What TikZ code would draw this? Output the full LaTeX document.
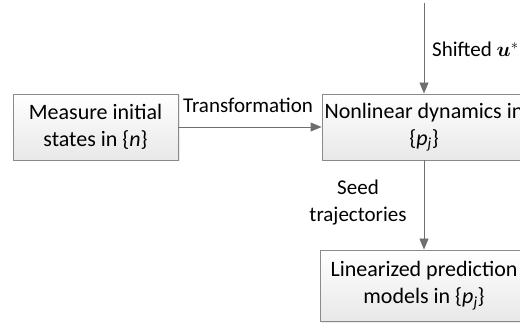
\documentclass[tikz,border=0pt]{standalone}
\usepackage{fontspec}
\usepackage{amsmath,bm}
\setmainfont{Carlito}
\usetikzlibrary{arrows.meta,shadows}
\definecolor{boxline}{HTML}{8A8A8A}
\definecolor{arrowgray}{HTML}{6E6E6E}
\tikzset{
  stepbox/.style={draw=boxline, line width=0.9pt, top color=white, bottom color=black!9,
    drop shadow={shadow xshift=1.5pt, shadow yshift=-1.5pt, fill=black!12, opacity=0.6},
    align=center, inner sep=0pt, font=\fontsize{22}{27}\selectfont},
  conn/.style={draw=arrowgray, line width=0.9pt, -{Triangle[length=11pt,width=9pt]}},
  lbl/.style={font=\fontsize{21}{27}\selectfont, align=center, inner sep=0pt}
}
\begin{document}
\begin{tikzpicture}[x=1pt,y=-1pt]
\useasboundingbox (0,0) rectangle (520,326);
\node[stepbox, minimum width=165pt, minimum height=66pt] (meas) at (95.5,127) {Measure initial\\states in \{\textit{n}\}};
\node[stepbox, minimum width=204pt, minimum height=66pt] (nl) at (424,127) {Nonlinear dynamics in\\\{\textit{p}\textsubscript{\textit{j}}\}};
\node[stepbox, minimum width=208pt, minimum height=71pt] (lin) at (424,285.5) {Linearized prediction\\models in \{\textit{p}\textsubscript{\textit{j}}\}};
\coordinate (top) at (424,3);
\draw[conn] (top) -- (nl.north);
\draw[conn] (meas.east) -- (nl.west);
\draw[conn] (nl.south) -- (lin.north);
\node[lbl, anchor=base west] (shift) at (432,57) {Shifted $\bm{u}^{*}$};
\node[lbl, anchor=base] (tr) at (248,113) {Transformation};
\node[lbl] (seed) at (358,203) {Seed\\trajectories};
\end{tikzpicture}
\end{document}
